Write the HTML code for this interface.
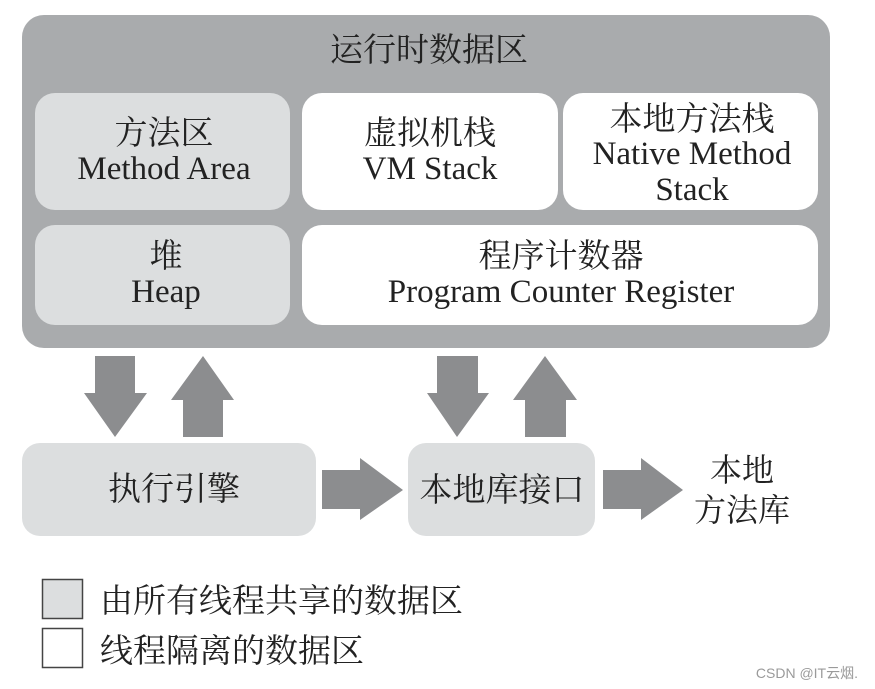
<!DOCTYPE html>
<html>
<head>
<meta charset="utf-8">
<style>
  html,body{margin:0;padding:0;background:#fff;}
  svg{display:block;}
  .cjk{font-family:"Liberation Serif","Noto Serif CJK SC","Noto Sans CJK SC",serif;fill:#222;}
  .lat{font-family:"Liberation Serif",serif;fill:#222;}
</style>
</head>
<body>
<svg width="875" height="689" viewBox="0 0 875 689" xmlns="http://www.w3.org/2000/svg">
  <rect x="0" y="0" width="875" height="689" fill="#ffffff"/>
  <!-- outer runtime data area -->
  <rect x="22" y="15" width="808" height="333" rx="22" ry="22" fill="#a9abad"/>
  <text class="cjk" x="429" y="61" font-size="33" text-anchor="middle">运行时数据区</text>

  <!-- Method Area -->
  <rect x="35" y="93" width="255" height="117" rx="20" ry="20" fill="#dcdedf"/>
  <text class="cjk" x="164" y="144" font-size="33" text-anchor="middle">方法区</text>
  <text class="lat" x="164" y="179" font-size="33" text-anchor="middle">Method Area</text>

  <!-- VM Stack -->
  <rect x="302" y="93" width="256" height="117" rx="20" ry="20" fill="#ffffff"/>
  <text class="cjk" x="430" y="144" font-size="33" text-anchor="middle">虚拟机栈</text>
  <text class="lat" x="430" y="179" font-size="33" text-anchor="middle">VM Stack</text>

  <!-- Native Method Stack -->
  <rect x="563" y="93" width="255" height="117" rx="20" ry="20" fill="#ffffff"/>
  <text class="cjk" x="692" y="130" font-size="33" text-anchor="middle">本地方法栈</text>
  <text class="lat" x="692" y="164" font-size="33" text-anchor="middle">Native Method</text>
  <text class="lat" x="692" y="200" font-size="33" text-anchor="middle">Stack</text>

  <!-- Heap -->
  <rect x="35" y="225" width="255" height="100" rx="20" ry="20" fill="#dcdedf"/>
  <text class="cjk" x="166" y="267" font-size="33" text-anchor="middle">堆</text>
  <text class="lat" x="166" y="302" font-size="33" text-anchor="middle">Heap</text>

  <!-- Program Counter Register -->
  <rect x="302" y="225" width="516" height="100" rx="20" ry="20" fill="#ffffff"/>
  <text class="cjk" x="561" y="267" font-size="33" text-anchor="middle">程序计数器</text>
  <text class="lat" x="561" y="302" font-size="33" text-anchor="middle">Program Counter Register</text>

  <!-- vertical arrows -->
  <g fill="#8c8d8f">
    <polygon points="95,356 135,356 135,393 147,393 115,437 84,393 95,393"/>
    <polygon points="203,356 234,400 223,400 223,437 183,437 183,400 171,400"/>
    <polygon points="437,356 478,356 478,393 489,393 457,437 427,393 437,393"/>
    <polygon points="545,356 577,400 566,400 566,437 525,437 525,400 513,400"/>
    <!-- horizontal arrows -->
    <polygon points="322,470 360,470 360,458 403,490 360,520 360,509 322,509"/>
    <polygon points="603,470 641,470 641,458 683,490 641,520 641,509 603,509"/>
  </g>

  <!-- Execution engine -->
  <rect x="22" y="443" width="294" height="93" rx="18" ry="18" fill="#dcdedf"/>
  <text class="cjk" x="174" y="500" font-size="33" text-anchor="middle">执行引擎</text>

  <!-- Native interface -->
  <rect x="408" y="443" width="187" height="93" rx="18" ry="18" fill="#dcdedf"/>
  <text class="cjk" x="502" y="501" font-size="33" text-anchor="middle">本地库接口</text>

  <!-- Native library -->
  <text class="cjk" x="742" y="481" font-size="32" text-anchor="middle">本地</text>
  <text class="cjk" x="742" y="521" font-size="32" text-anchor="middle">方法库</text>

  <!-- Legend -->
  <rect x="42.5" y="579.5" width="40" height="39" fill="#dcdedf" stroke="#444" stroke-width="1.5"/>
  <text class="cjk" x="100" y="612" font-size="33">由所有线程共享的数据区</text>
  <rect x="42.5" y="628.5" width="40" height="39" fill="#ffffff" stroke="#444" stroke-width="1.5"/>
  <text class="cjk" x="100" y="662" font-size="33">线程隔离的数据区</text>

  <!-- watermark -->
  <text x="858" y="678" font-size="14" text-anchor="end" fill="#9a9a9a" font-family="Liberation Sans, Noto Sans CJK SC, sans-serif">CSDN @IT云烟.</text>
</svg>
</body>
</html>
